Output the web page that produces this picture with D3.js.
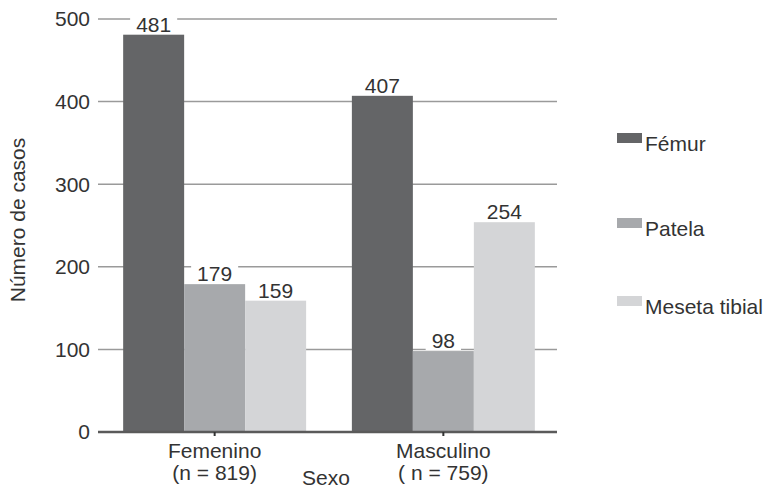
<!DOCTYPE html>
<html><head><meta charset="utf-8">
<script src="https://cdn.jsdelivr.net/npm/d3@7"></script>
<style>body{margin:0;background:#fff}text{font-family:"Liberation Sans",Arial,sans-serif}</style>
</head><body><svg id="c" width="765" height="489"></svg>
<script>
const categories = ["Femenino", "Masculino"];
const categorySubLabels = ["(n = 819)", "( n = 759)"];
const seriesNames = ["Fémur", "Patela", "Meseta tibial"];
const femur = [481, 407];
const patela = [179, 98];
const meseta = [159, 254];
const yTicks = [0, 100, 200, 300, 400, 500];
const colors = ["#646567", "#a7a9ac", "#d4d5d7"];

const FS = 21;
const seriesValues = [femur, patela, meseta];
const svg = d3.select("#c");
const x0 = d3.scaleBand().domain(categories).range([98, 560]).paddingInner(0.2).paddingOuter(0.11);
const x1 = d3.scaleBand().domain(seriesNames).range([0, x0.bandwidth()]);
const y = d3.scaleLinear().domain([0, 500]).range([432, 19]);

// gridlines
svg.append("g").selectAll("line").data(yTicks.filter(d => d > 0)).join("line")
  .attr("x1", 98).attr("x2", 557).attr("y1", d => y(d)).attr("y2", d => y(d))
  .attr("stroke", "#9a9a9a").attr("stroke-width", 1.5);

// y tick labels
svg.append("g").selectAll("text").data(yTicks).join("text")
  .attr("x", 90).attr("y", d => y(d)).attr("dy", "0.35em").attr("text-anchor", "end")
  .attr("font-size", FS).attr("fill", "#333").text(d => d);

// bars
const data = [];
categories.forEach((c, i) => seriesNames.forEach((s, j) => data.push({c, s, v: seriesValues[j][i], j})));
svg.append("g").selectAll("rect").data(data).join("rect")
  .attr("x", d => x0(d.c) + x1(d.s)).attr("width", x1.bandwidth())
  .attr("y", d => y(d.v)).attr("height", d => y(0) - y(d.v))
  .attr("fill", d => colors[d.j]);

// x axis line
svg.append("line").attr("x1", 98).attr("x2", 557).attr("y1", y(0)).attr("y2", y(0))
  .attr("stroke", "#5a5a5a").attr("stroke-width", 2.5);
svg.append("g").selectAll("line").data(categories).join("line")
  .attr("x1", d => x0(d) + x0.bandwidth() / 2).attr("x2", d => x0(d) + x0.bandwidth() / 2)
  .attr("y1", y(0)).attr("y2", y(0) + 4).attr("stroke", "#333").attr("stroke-width", 2);

// value labels with white backgrounds
const lab = svg.append("g").selectAll("g").data(data).join("g");
lab.append("text")
  .attr("x", d => x0(d.c) + x1(d.s) + x1.bandwidth() / 2).attr("y", d => y(d.v) - 3)
  .attr("text-anchor", "middle").attr("font-size", FS).attr("fill", "#333").text(d => d.v);
lab.each(function () {
  const g = d3.select(this), b = g.select("text").node().getBBox();
  g.insert("rect", "text").attr("x", b.x - 6).attr("y", b.y + 2).attr("width", b.width + 12).attr("height", b.height - 4).attr("fill", "#fff");
});

// x labels
const xl = svg.append("g").selectAll("g").data(categories).join("g");
xl.append("text").attr("x", d => x0(d) + x0.bandwidth() / 2).attr("y", 458)
  .attr("text-anchor", "middle").attr("font-size", FS).attr("fill", "#333").text(d => d);
xl.append("text").attr("x", (d, i) => x0(d) + x0.bandwidth() / 2).attr("y", 480)
  .attr("text-anchor", "middle").attr("font-size", FS).attr("fill", "#333").text((d, i) => categorySubLabels[i]);
svg.append("text").attr("x", 326).attr("y", 485).attr("text-anchor", "middle")
  .attr("font-size", FS).attr("fill", "#333").text("Sexo");

// y label
svg.append("text").attr("transform", "translate(25,220) rotate(-90)").attr("text-anchor", "middle")
  .attr("font-size", FS).attr("fill", "#333").text("Número de casos");

// legend
const legY = [151, 236, 314];
const lg = svg.append("g").selectAll("g").data(seriesNames).join("g");
lg.append("rect").attr("x", 617).attr("y", (d, i) => legY[i] - 18).attr("width", 25).attr("height", 10)
  .attr("fill", (d, i) => colors[i]);
lg.append("text").attr("x", 645).attr("y", (d, i) => legY[i]).attr("font-size", FS).attr("fill", "#333").text(d => d);
</script></body></html>
